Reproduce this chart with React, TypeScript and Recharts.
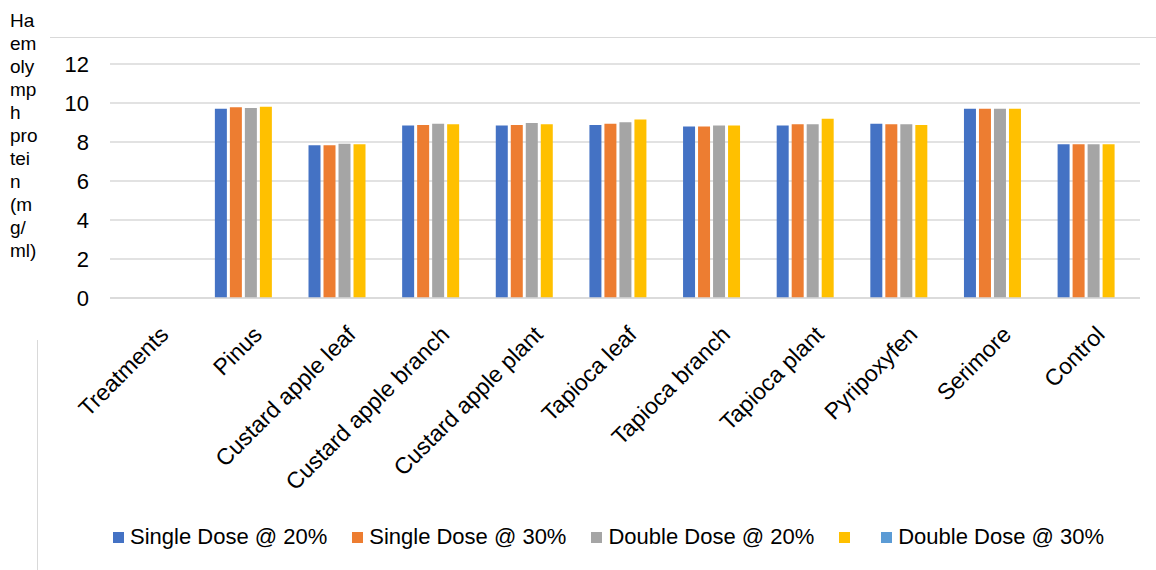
import { BarChart, Bar, XAxis, YAxis, CartesianGrid } from "recharts";

const categories = [
    "Treatments",
    "Pinus",
    "Custard apple leaf",
    "Custard apple branch",
    "Custard apple plant",
    "Tapioca leaf",
    "Tapioca branch",
    "Tapioca plant",
    "Pyripoxyfen",
    "Serimore",
    "Control",
];

const single20 = [null, 9.7, 7.83, 8.84, 8.84, 8.87, 8.79, 8.84, 8.94, 9.71, 7.88];
const single30 = [null, 9.78, 7.83, 8.87, 8.87, 8.94, 8.79, 8.91, 8.91, 9.71, 7.88];
const double20 = [null, 9.74, 7.91, 8.94, 8.97, 9.01, 8.84, 8.91, 8.91, 9.71, 7.88];
const unnamed = [null, 9.81, 7.88, 8.91, 8.91, 9.16, 8.84, 9.19, 8.87, 9.71, 7.88];
const double30 = [null, null, null, null, null, null, null, null, null, null, null];

const yTicks = [0, 2, 4, 6, 8, 10, 12];
const yLabelLines = ["Ha", "em", "oly", "mp", "h", "pro", "tei", "n", "(m", "g/", "ml)"];

const series = [
    { key: "s20", name: "Single Dose @ 20%", color: "#4472C4", values: single20 },
    { key: "s30", name: "Single Dose @ 30%", color: "#ED7D31", values: single30 },
    { key: "d20", name: "Double Dose @ 20%", color: "#A5A5A5", values: double20 },
    { key: "x", name: "", color: "#FFC000", values: unnamed },
    { key: "d30", name: "Double Dose @ 30%", color: "#5B9BD5", values: double30 },
];

const data = categories.map((name, i) => {
    const row: any = { name };
    series.forEach((s) => (row[s.key] = s.values[i]));
    return row;
});

const FONT = "'Liberation Sans', Arial, sans-serif";

function XTick({ x, y, payload }: any) {
    return (
        <g transform={`translate(${x + 13},${y + 38})`}>
            <text transform="rotate(-45)" textAnchor="end" fontSize={23} fill="#000" fontFamily={FONT}>
                {payload.value}
            </text>
        </g>
    );
}

export default function App() {
    return (
        <div style={{ position: "absolute", left: 0, top: 0, width: 1156, height: 570, background: "#fff", fontFamily: FONT }}>
            {/* frame remnants */}
            <div style={{ position: "absolute", left: 50, top: 37, width: 1106, height: 1, background: "#D9D9D9" }} />
            <div style={{ position: "absolute", left: 37, top: 340, width: 1, height: 230, background: "#D9D9D9" }} />

            <div style={{ position: "absolute", left: 10, top: 9, fontSize: 19, lineHeight: "23px", color: "#000" }}>
                {yLabelLines.map((l, i) => (
                    <div key={i}>{l}</div>
                ))}
            </div>

            <BarChart
                width={1156}
                height={570}
                data={data}
                margin={{ top: 64, right: 16, bottom: 0, left: 0 }}
                barCategoryGap="12%"
                barGap={3}
                style={{ position: "absolute", left: 0, top: 0 }}
            >
                <CartesianGrid vertical={false} stroke="#D9D9D9" strokeWidth={1.5} />
                <XAxis
                    dataKey="name"
                    height={272}
                    interval={0}
                    tickLine={false}
                    tickSize={0}
                    tickMargin={0}
                    axisLine={{ stroke: "#D9D9D9", strokeWidth: 1.5 }}
                    tick={<XTick />}
                />
                <YAxis
                    width={110}
                    domain={[0, 12]}
                    ticks={yTicks}
                    axisLine={false}
                    tickLine={false}
                    tickSize={0}
                    tickMargin={21}
                    tick={{ fontSize: 22, fill: "#000", fontFamily: FONT }}
                />
                {series.map((s) => (
                    <Bar key={s.key} dataKey={s.key} name={s.name} fill={s.color} isAnimationActive={false} />
                ))}
            </BarChart>

            <div style={{ position: "absolute", left: 113, top: 524, display: "flex", alignItems: "center", fontSize: 22, color: "#000", whiteSpace: "nowrap" }}>
                {series.map((s) => (
                    <div key={s.key} style={{ display: "flex", alignItems: "center", marginRight: 25 }}>
                        <span style={{ width: 11, height: 11, background: s.color, display: "inline-block", marginRight: 6 }} />
                        <span>{s.name}</span>
                    </div>
                ))}
            </div>
        </div>
    );
}
